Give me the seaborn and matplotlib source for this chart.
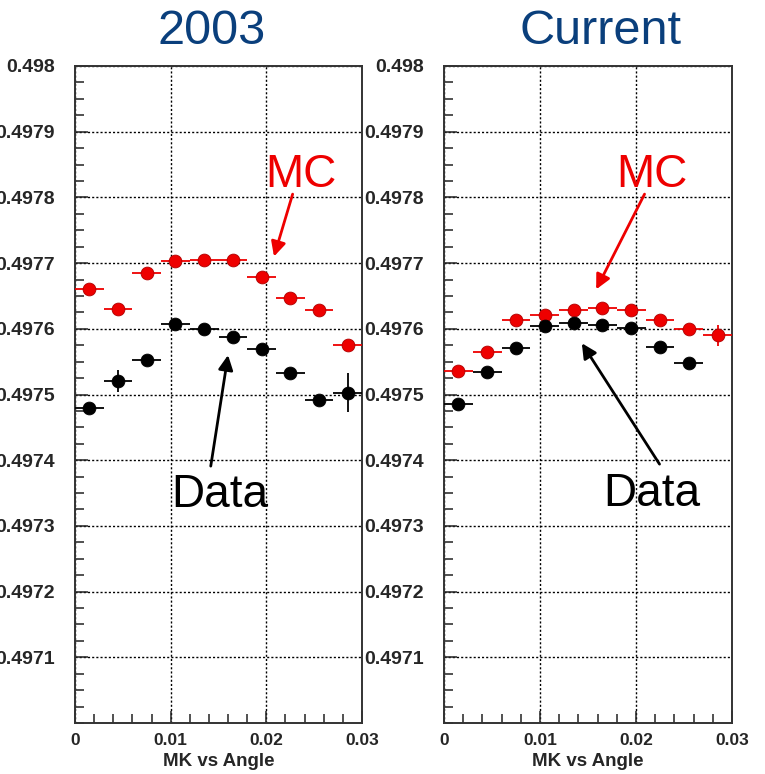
import numpy as np
import pandas as pd
import matplotlib
matplotlib.use("Agg")
import matplotlib.pyplot as plt
from matplotlib.ticker import MultipleLocator, FuncFormatter
import seaborn as sns

# Bin centres in angle (bin width 0.003)
angle = [0.0015, 0.0045, 0.0075, 0.0105, 0.0135, 0.0165, 0.0195, 0.0225, 0.0255, 0.0285]
half_width = 0.0015

# 2003 reconstruction
mc_2003 = [0.49766, 0.49763, 0.497685, 0.497703, 0.497705, 0.497705, 0.497679, 0.497647, 0.497629, 0.497576]
mc_2003_err = [0.000004, 0.000004, 0.000004, 0.000004, 0.000004, 0.000004, 0.000004, 0.000004, 0.000004, 0.000004]
data_2003 = [0.49748, 0.497521, 0.497552, 0.497608, 0.4976, 0.497587, 0.49757, 0.497533, 0.497492, 0.497503]
data_2003_err = [0.000004, 0.0000165, 0.000005, 0.000005, 0.000004, 0.000004, 0.000004, 0.000006, 0.000008, 0.00003]

# Current reconstruction
mc_cur = [0.497536, 0.497564, 0.497613, 0.497621, 0.497628, 0.497631, 0.497628, 0.497614, 0.4976, 0.49759]
mc_cur_err = [0.000004, 0.000004, 0.000004, 0.000004, 0.000004, 0.000005, 0.000004, 0.000005, 0.000004, 0.000016]
data_cur = [0.497486, 0.497535, 0.497571, 0.497605, 0.497609, 0.497606, 0.497601, 0.497573, 0.497548, np.nan]
data_cur_err = [0.000004, 0.000004, 0.000004, 0.000004, 0.000005, 0.000004, 0.000004, 0.000004, 0.000004, np.nan]

panel_titles = ["2003", "Current"]
xlabel = "MK vs Angle"
y_ticks = [0.4971, 0.4972, 0.4973, 0.4974, 0.4975, 0.4976, 0.4977, 0.4978, 0.4979, 0.4980]

sns.set_theme(style="white")
plt.rcParams["font.family"] = ["Liberation Sans", "DejaVu Sans"]

fig = plt.figure(figsize=(7.65, 7.74), dpi=100)
W, H = 765, 774

def px_axes(x0, x1, ytop, ybot):
    return fig.add_axes([x0 / W, 1 - ybot / H, (x1 - x0) / W, (ybot - ytop) / H])

ax_l = px_axes(75, 362, 66, 723)
ax_r = px_axes(444, 732, 66, 723)

RED = "#EE0000"

def draw_series(ax, y, yerr, color, edge):
    df = pd.DataFrame({"angle": angle, "mk": y, "err": yerr}).dropna()
    ax.errorbar(df["angle"], df["mk"], xerr=half_width, yerr=df["err"],
                fmt="none", ecolor=color, elinewidth=1.3, capsize=0, zorder=3)
    sns.scatterplot(data=df, x="angle", y="mk", ax=ax, color=color,
                    edgecolor=edge, linewidth=0.6, s=85, zorder=4, legend=False)

def ytick_fmt(v, pos):
    return f"{v:.4f}".rstrip("0")

def xtick_fmt(v, pos):
    if abs(v) < 1e-9:
        return "0"
    return f"{v:.2f}"

draw_series(ax_l, mc_2003, mc_2003_err, RED, "#B00000")
draw_series(ax_l, data_2003, data_2003_err, "black", "black")
draw_series(ax_r, mc_cur, mc_cur_err, RED, "#B00000")
draw_series(ax_r, data_cur, data_cur_err, "black", "black")

for ax in (ax_l, ax_r):
    ax.set_xlim(0, 0.03)
    ax.set_ylim(0.4970, 0.4980)
    ax.xaxis.set_major_locator(MultipleLocator(0.01))
    ax.xaxis.set_minor_locator(MultipleLocator(0.002))
    ax.set_yticks(y_ticks)
    ax.yaxis.set_minor_locator(MultipleLocator(0.000025))
    ax.yaxis.set_major_formatter(FuncFormatter(ytick_fmt))
    ax.xaxis.set_major_formatter(FuncFormatter(xtick_fmt))
    ax.tick_params(axis="both", which="major", direction="in", length=9, width=1.1,
                   color="#222222", bottom=True, left=True)
    ax.tick_params(axis="both", which="minor", direction="in", length=6.5, width=1.1,
                   color="#222222", bottom=True, left=True)
    ax.tick_params(axis="y", which="major", labelsize=14, pad=14.5)
    ax.tick_params(axis="x", which="major", labelsize=12.5, pad=7)
    for lab in ax.get_xticklabels() + ax.get_yticklabels():
        lab.set_fontweight("bold")
    ax.grid(True, which="major", linestyle=(0, (1.5, 1.5)), color="black", linewidth=1.0)
    ax.set_axisbelow(True)
    for sp in ax.spines.values():
        sp.set_color("#333333")
        sp.set_linewidth(1.4)
        sp.set_visible(True)
    ax.set_xlabel(xlabel, fontsize=13.5, fontweight="bold", labelpad=4)
    ax.set_ylabel("")

# Panel titles
TITLE = "#0A3F7C"
fig.text(212 / W, 1 - 44 / H, panel_titles[0], color=TITLE, fontsize=35, ha="center", va="baseline")
fig.text(600 / W, 1 - 44 / H, panel_titles[1], color=TITLE, fontsize=35, ha="center", va="baseline")

arrow_red = dict(arrowstyle="-|>", color=RED, lw=2, mutation_scale=22, shrinkA=0, shrinkB=0)
arrow_blk = dict(arrowstyle="-|>", color="black", lw=2, mutation_scale=22, shrinkA=0, shrinkB=0)

# MC labels
ax_l.text(0.02362, 0.497816, "MC", color=RED, fontsize=33, ha="center", va="baseline", zorder=6)
ax_l.annotate("", xy=(0.0208, 0.49771), xytext=(0.02275, 0.497805), arrowprops=arrow_red, zorder=6)
ax_r.text(0.02171, 0.497816, "MC", color=RED, fontsize=33, ha="center", va="baseline", zorder=6)
ax_r.annotate("", xy=(0.01585, 0.49766), xytext=(0.02089, 0.497805), arrowprops=arrow_red, zorder=6)

# Data labels
ax_l.text(0.01516, 0.497329, "Data", color="black", fontsize=33, ha="center", va="baseline", zorder=6)
ax_l.annotate("", xy=(0.0160, 0.49756), xytext=(0.01419, 0.497391), arrowprops=arrow_blk, zorder=6)
ax_r.text(0.02169, 0.49733, "Data", color="black", fontsize=33, ha="center", va="baseline", zorder=6)
ax_r.annotate("", xy=(0.01436, 0.497578), xytext=(0.02245, 0.497394), arrowprops=arrow_blk, zorder=6)

fig.savefig("out.png", dpi=100, facecolor="white")
